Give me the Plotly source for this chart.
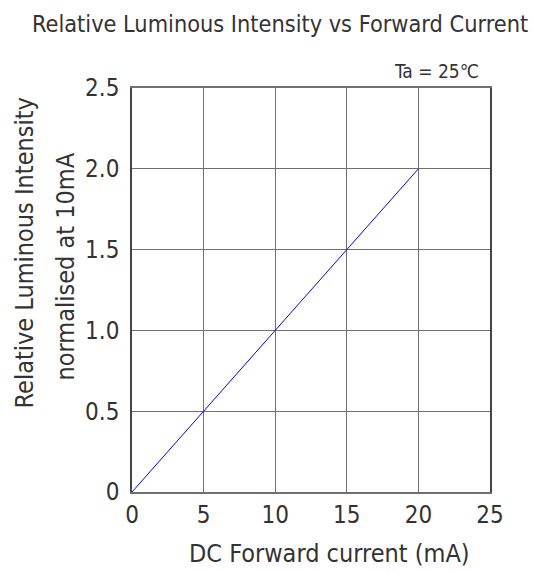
import plotly.graph_objects as go

current_ma = [0, 5, 10, 15, 20]
rel_intensity = [0, 0.5, 1.0, 1.5, 2.0]
x_ticks = [0, 5, 10, 15, 20, 25]
y_ticks = [0, 0.5, 1.0, 1.5, 2.0, 2.5]
y_tick_text = ["0", "0.5", "1.0", "1.5", "2.0", "2.5"]

FONT = "DejaVu Sans Condensed, Roboto, sans-serif"
TXT = "#333333"

fig = go.Figure()
fig.add_trace(go.Scatter(x=current_ma, y=rel_intensity, mode="lines",
                         line=dict(color="#0000ff", width=1), showlegend=False))

fig.update_layout(
    width=534, height=563,
    margin=dict(l=124, r=52, t=80, b=79, autoexpand=False),
    paper_bgcolor="white", plot_bgcolor="white",
    font=dict(family=FONT, color=TXT, size=24),
    title=dict(text="Relative Luminous Intensity vs Forward Current",
               x=0.045, xanchor="left", y=0.972, yanchor="middle",
               font=dict(family=FONT, size=23.3, color=TXT)),
    xaxis=dict(range=[0, 25], tickvals=x_ticks, ticktext=[str(v) for v in x_ticks],
               showgrid=True, gridcolor="#707070", gridwidth=1,
               showline=True, linecolor="#707070", linewidth=2, mirror=True,
               zeroline=False, ticks="", ticklen=0, automargin=False),
    yaxis=dict(range=[0, 2.5], tickvals=y_ticks, ticktext=y_tick_text,
               showgrid=True, gridcolor="#707070", gridwidth=1,
               showline=True, linecolor="#444444", linewidth=1.5, mirror=True,
               zeroline=False, ticks="", ticklen=0, automargin=False,
               ticklabelstandoff=6),
    annotations=[
        dict(text="Ta = 25\u2103", x=1.0, xref="paper", xanchor="right", xshift=-9,
             y=1.0, yref="paper", yanchor="bottom", yshift=4, showarrow=False,
             font=dict(family=FONT, size=19, color=TXT)),
        dict(text="DC Forward current (mA)", x=0.553, xref="paper", xanchor="center",
             y=-0.153, yref="paper", yanchor="middle", showarrow=False,
             font=dict(family=FONT, size=25, color=TXT)),
        dict(text="Relative Luminous Intensity", x=-0.300, xref="paper", xanchor="center",
             y=0.592, yref="paper", yanchor="middle", textangle=-90, showarrow=False,
             borderpad=0, font=dict(family=FONT, size=25, color=TXT)),
        dict(text="normalised at 10mA", x=-0.186, xref="paper", xanchor="center",
             y=0.559, yref="paper", yanchor="middle", textangle=-90, showarrow=False,
             borderpad=0, font=dict(family=FONT, size=25, color=TXT)),
    ],
)

fig.write_html("out.html")
